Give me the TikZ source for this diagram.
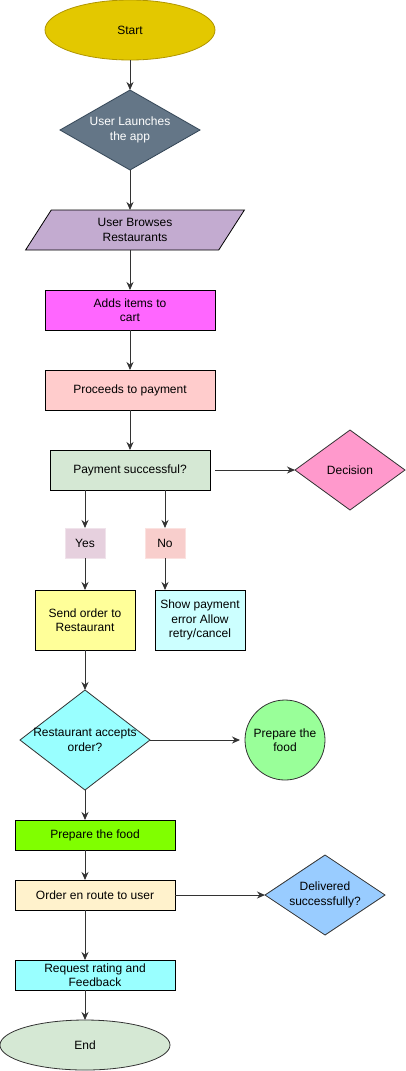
\documentclass[tikz,border=0pt]{standalone}
\usepackage{fontspec}
\setmainfont{Liberation Sans}
\usepackage{xcolor}
\usetikzlibrary{shapes.geometric}
\usetikzlibrary{arrows.meta}
\usetikzlibrary{positioning}
\tikzset{font={\fontsize{12pt}{14.5pt}\selectfont}}
\definecolor{startfill}{HTML}{E3C800}
\definecolor{startline}{HTML}{B09500}
\definecolor{launchfill}{HTML}{647687}
\definecolor{launchline}{HTML}{314354}
\definecolor{browsefill}{HTML}{C3ABD0}
\definecolor{cartfill}{HTML}{FF66FF}
\definecolor{payfill}{HTML}{FFCCCC}
\definecolor{paidfill}{HTML}{D5E8D4}
\definecolor{decfill}{HTML}{FF99CC}
\definecolor{yesfill}{HTML}{E6D0DE}
\definecolor{nofill}{HTML}{F8CECC}
\definecolor{sendfill}{HTML}{FFFF99}
\definecolor{errfill}{HTML}{CCFFFF}
\definecolor{acceptfill}{HTML}{99FFFF}
\definecolor{cookfill}{HTML}{99FF99}
\definecolor{prepfill}{HTML}{80FF00}
\definecolor{routefill}{HTML}{FFF2CC}
\definecolor{delivfill}{HTML}{99CCFF}
\definecolor{endfill}{HTML}{D5E8D4}
\tikzset{
  every node/.append style={outer sep=0pt},
  box/.style={rectangle, draw=black, line width=0.8pt, inner sep=0pt, align=center,
    minimum width=170pt, minimum height=40pt},
  dec/.style={diamond, shape aspect=1.5, draw=black!80, line width=0.8pt, inner sep=-6pt, align=center},
  term/.style={ellipse, line width=0.8pt, inner sep=0pt, minimum width=170pt},
  io/.style={trapezium, trapezium left angle=63.4, trapezium right angle=116.6,
    trapezium stretches=true, draw=black, line width=0.8pt, inner sep=0pt, align=center,
    minimum width=220pt, minimum height=40pt},
  tag/.style={rectangle, line width=0.8pt, inner sep=0pt, minimum width=40pt, minimum height=30pt},
  arr/.style={-{Stealth[length=8pt,width=7pt]}, line width=1pt, black!80}
}

\begin{document}
\begin{tikzpicture}
  \useasboundingbox (0,0) rectangle (406pt,-1071pt);
  % Define nodes
  \node[term, fill=startfill, draw=startline, minimum height=60pt] (start) at (130pt,-30pt) {Start};
  \node[dec, fill=launchfill, draw=launchline, text=white, minimum width=140pt, minimum height=80pt, below=30pt of start] (launch) {User Launches\\the app};
  \node[io, fill=browsefill, below=40pt of launch, xshift=5pt] (browse) {User Browses\\Restaurants};
  \node[box, fill=cartfill, below=40pt of browse, xshift=-5pt] (cart) {Adds items to\\cart};
  \node[box, fill=payfill, below=40pt of cart] (payment) {Proceeds to payment};
  \node[box, fill=paidfill, minimum width=160pt, below=40pt of payment] (paid) {Payment successful?};
  \node[dec, fill=decfill, minimum width=110pt, minimum height=80pt, right=85pt of paid] (decision) {Decision};
  \node[tag, fill=yesfill, draw=yesfill!60!white, below=38pt of paid, xshift=-45pt] (yes) {Yes};
  \node[tag, fill=nofill, draw=nofill!60!white, below=38pt of paid, xshift=35pt] (no) {No};
  \node[box, fill=sendfill, minimum width=100pt, minimum height=60pt, below=32pt of yes] (send) {Send order to\\Restaurant};
  \node[box, fill=errfill, minimum width=90pt, minimum height=60pt, right=20pt of send] (payerr) {Show payment\\error Allow\\retry/cancel};
  \node[dec, fill=acceptfill, minimum width=130pt, minimum height=100pt, below=40pt of send] (accept) {Restaurant accepts\\order?};
  \node[circle, draw=black!80, line width=0.8pt, fill=cookfill, inner sep=0pt, align=center, minimum size=80pt, right=95pt of accept] (cook) {Prepare the\\food};
  \node[box, fill=prepfill, minimum width=160pt, minimum height=30pt, below=30pt of accept, xshift=10pt] (prep) {Prepare the food};
  \node[box, fill=routefill, minimum width=160pt, minimum height=30pt, below=30pt of prep] (route) {Order en route to user};
  \node[dec, fill=delivfill, minimum width=120pt, minimum height=80pt, right=90pt of route] (deliv) {Delivered\\successfully?};
  \node[box, fill=acceptfill, minimum width=160pt, minimum height=30pt, below=50pt of route] (rating) {Request rating and\\Feedback};
  \node[term, fill=endfill, draw=black!80, minimum height=50pt, below=30pt of rating, xshift=-10pt] (finish) {End};

  % Connect the nodes
  \draw[arr] (start) -- (launch);
  \draw[arr] (launch) -- (launch |- browse.north);
  \draw[arr] (browse.south -| cart) -- (cart);
  \draw[arr] (cart) -- (payment);
  \draw[arr] (payment) -- (paid);
  \draw[arr, shorten <=5pt] (paid) -- (decision);
  \draw[arr] (paid.south -| yes) -- (yes);
  \draw[arr] (paid.south -| no) -- (no);
  \draw[arr] (yes) -- (send);
  \draw[arr] (no) -- (no |- payerr.north);
  \draw[arr] (send) -- (accept);
  \draw[arr, shorten >=5pt] (accept) -- (cook);
  \draw[arr] (accept) -- (accept |- prep.north);
  \draw[arr] (prep.south -| accept) -- (route.north -| accept);
  \draw[arr] (route) -- (deliv);
  \draw[arr] (route.south -| accept) -- (rating.north -| accept);
  \draw[arr] (rating.south -| finish) -- (finish);
\end{tikzpicture}
\end{document}
